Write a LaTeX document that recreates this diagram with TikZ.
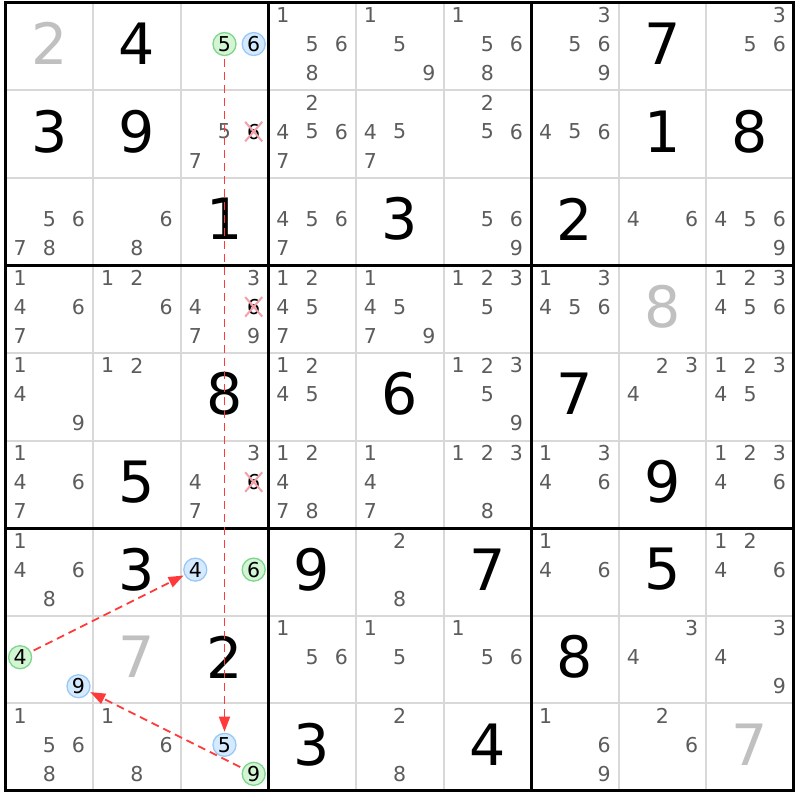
\documentclass[tikz,border=0pt]{standalone}
\usepackage{fontspec}
\setmainfont{DejaVu Sans}
\usepackage{tikz}
\usetikzlibrary{arrows.meta,shapes.misc}

\definecolor{candgray}{HTML}{5C5C5C}
\definecolor{givengray}{HTML}{C0C0C0}
\definecolor{gridgray}{HTML}{D8D8D8}
\definecolor{linkred}{HTML}{FF3A3A}
\definecolor{ongreen}{HTML}{D4F5D4}
\definecolor{ongreenline}{HTML}{7CD68C}
\definecolor{offblue}{HTML}{D6EAFF}
\definecolor{offblueline}{HTML}{98C8F5}
\definecolor{crosspink}{HTML}{F4A0A8}

\tikzset{
  cand/.style={text=candgray, font=\fontsize{20.5}{20.5}\selectfont, inner sep=0pt},
  big/.style={font=\fontsize{57}{57}\selectfont, inner sep=0pt},
  on/.style={cand, text=black, circle, draw=ongreenline, fill=ongreen, line width=1.3pt, minimum size=23pt},
  off/.style={cand, text=black, circle, draw=offblueline, fill=offblue, line width=1.3pt, minimum size=23pt},
  gone/.style={cand, text=black, cross out, draw=crosspink, line width=2pt, inner xsep=1pt, inner ysep=1pt},
  link/.style={draw=linkred, line width=1.8pt, dash pattern=on 8pt off 5pt, shorten <=3pt, shorten >=1pt,
    -{Triangle[length=15pt,width=11pt,fill=linkred]}}
}

\begin{document}
\begin{tikzpicture}[x=87.6pt, y=-87.6pt]
            \useasboundingbox[fill=white] (-5.5pt,2.5pt) rectangle (794.5pt,-797.5pt);
            % grid
            \foreach \i in {1,2,4,5,7,8} {
              \draw[gridgray, line width=2pt] (\i,0) -- (\i,9);
              \draw[gridgray, line width=2pt] (0,\i) -- (9,\i);
            }
            \foreach \i in {0,3,6,9} {
              \draw[black, line width=3pt] (\i,-0.017) -- (\i,9.017);
              \draw[black, line width=3pt] (-0.017,\i) -- (9.017,\i);
            }
            % placed digits
            \foreach \rr/\cc/\v/\tc in {0/0/2/givengray, 0/1/4/black, 0/7/7/black,
                1/0/3/black, 1/1/9/black, 1/7/1/black, 1/8/8/black,
                2/2/1/black, 2/4/3/black, 2/6/2/black,
                3/7/8/givengray,
                4/2/8/black, 4/4/6/black, 4/6/7/black,
                5/1/5/black, 5/7/9/black,
                6/1/3/black, 6/3/9/black, 6/5/7/black, 6/7/5/black,
                7/1/7/givengray, 7/2/2/black, 7/6/8/black,
                8/3/3/black, 8/5/4/black, 8/8/7/givengray}
              \node[big, text=\tc] (b\rr\cc) at (\cc+0.5,\rr+0.47) {\v};
            % candidates
            \foreach \rr/\cc/\ds in {0/3/{1,5,6,8}, 0/4/{1,5,9}, 0/5/{1,5,6,8}, 0/6/{3,5,6,9}, 0/8/{3,5,6},
                1/2/{5,7}, 1/3/{2,4,5,6,7}, 1/4/{4,5,7}, 1/5/{2,5,6}, 1/6/{4,5,6},
                2/0/{5,6,7,8}, 2/1/{6,8}, 2/3/{4,5,6,7}, 2/5/{5,6,9}, 2/7/{4,6}, 2/8/{4,5,6,9},
                3/0/{1,4,6,7}, 3/1/{1,2,6}, 3/2/{3,4,7,9}, 3/3/{1,2,4,5,7}, 3/4/{1,4,5,7,9},
                3/5/{1,2,3,5}, 3/6/{1,3,4,5,6}, 3/8/{1,2,3,4,5,6},
                4/0/{1,4,9}, 4/1/{1,2}, 4/3/{1,2,4,5}, 4/5/{1,2,3,5,9}, 4/7/{2,3,4}, 4/8/{1,2,3,4,5},
                5/0/{1,4,6,7}, 5/2/{3,4,7}, 5/3/{1,2,4,7,8}, 5/4/{1,4,7}, 5/5/{1,2,3,8}, 5/6/{1,3,4,6}, 5/8/{1,2,3,4,6},
                6/0/{1,4,6,8}, 6/4/{2,8}, 6/6/{1,4,6}, 6/8/{1,2,4,6},
                7/3/{1,5,6}, 7/4/{1,5}, 7/5/{1,5,6}, 7/7/{3,4}, 7/8/{3,4,9},
                8/0/{1,5,6,8}, 8/1/{1,6,8}, 8/4/{2,8}, 8/6/{1,6,9}, 8/7/{2,6}}
              \foreach \dd in \ds {
                \pgfmathtruncatemacro\kx{mod(\dd-1,3)}
                \pgfmathtruncatemacro\ky{div(\dd-1,3)}
                \node[cand] (n\rr\cc\dd) at ({\cc+(\kx+0.5)/3},{\rr+0.143+0.331*\ky}) {\dd};
              }
            % marked candidates
            \foreach \rr/\cc/\dd/\kind in {0/2/5/on, 0/2/6/off, 1/2/6/gone, 3/2/6/gone, 5/2/6/gone,
                6/2/4/off, 6/2/6/on, 7/0/4/on, 7/0/9/off, 8/2/5/off, 8/2/9/on} {
              \pgfmathtruncatemacro\kx{mod(\dd-1,3)}
              \pgfmathtruncatemacro\ky{div(\dd-1,3)}
              \node[\kind] (n\rr\cc\dd) at ({\cc+(\kx+0.5)/3},{\rr+0.143+0.331*\ky}) {\dd};
            }
            % links
            \draw[link] (n025) -- (n825);
            \draw[link] (n704) -- (n624);
            \draw[link] (n829) -- (n709);
        \end{tikzpicture}
\end{document}
